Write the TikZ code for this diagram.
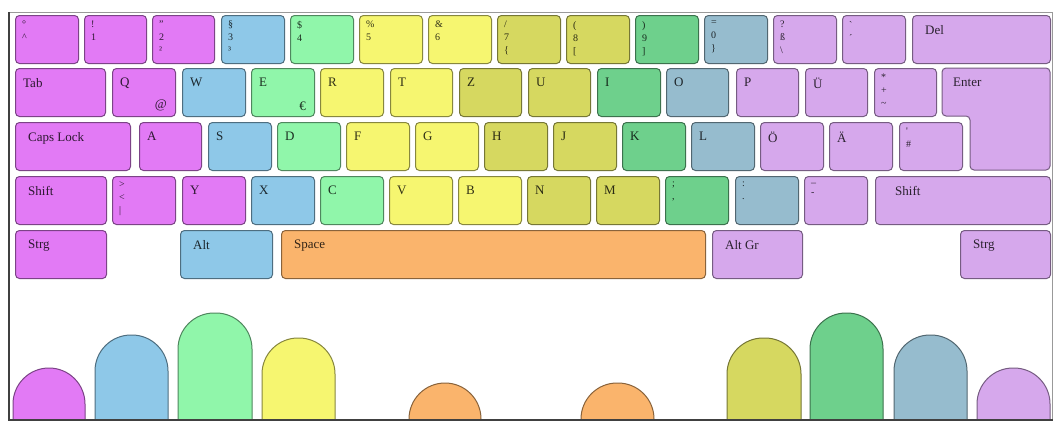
\documentclass[tikz,border=0pt]{standalone}
\usepackage{fontspec}
\setmainfont{Liberation Serif}
\usepackage{tikz}
\usetikzlibrary{positioning}

\definecolor{lpinky}{RGB}{226,122,245}
\definecolor{lring}{RGB}{142,200,232}
\definecolor{lmiddle}{RGB}{144,246,170}
\definecolor{lindex}{RGB}{246,246,112}
\definecolor{thumb}{RGB}{250,180,108}
\definecolor{rindex}{RGB}{214,216,96}
\definecolor{rmiddle}{RGB}{110,208,140}
\definecolor{rring}{RGB}{150,188,206}
\definecolor{rpinky}{RGB}{214,168,236}

\begin{document}
\begin{tikzpicture}[x=1pt,y=-1pt,
  kbase/.style={draw=#1!55!black, fill=#1, rounded corners=4pt, line width=1pt,
    anchor=north west, inner sep=0pt, minimum height=48},
  key/.style 2 args={kbase=#1, label={[lbl, text=#1!20!black]north west:#2}},
  nkey/.style 2 args={kbase=#1, label={[nlbl, text=#1!20!black]north west:#2}},
  mkey/.style 2 args={kbase=#1, label={[mlbl, text=#1!20!black]north west:#2}},
  lbl/.style={anchor=north west, inner sep=0pt, xshift=8pt, yshift=-10pt, font=\fontsize{13}{14}\selectfont},
  mlbl/.style={lbl, xshift=5pt},
  nlbl/.style={anchor=north west, inner sep=0pt, xshift=7pt, yshift=-6pt, align=left,
    font=\fontsize{10}{13}\selectfont},
  elbl/.style={anchor=south east, inner sep=0pt, xshift=-9pt, yshift=6pt, font=\fontsize{13}{14}\selectfont},
  finger/.style={draw=#1!55!black, fill=#1, line width=1pt, rounded corners=36}]
\useasboundingbox (0,0) rectangle (1056,426);
\fill[white] (0,0) rectangle (1056,426);

% row 1
\node[nkey={lpinky}{°\\\textasciicircum}, minimum width=63] (kcirc) at (15,15) {};
\node[nkey={lpinky}{!\\1}, minimum width=62] (k1) at (84,15) {};
\node[nkey={lpinky}{"\\2\\²}, minimum width=62] (k2) at (152,15) {};
\node[nkey={lring}{§\\3\\³}, minimum width=63] (k3) at (221,15) {};
\node[nkey={lmiddle}{\$\\4}, minimum width=63] (k4) at (290,15) {};
\node[nkey={lindex}{\%\\5}, minimum width=63] (k5) at (359,15) {};
\node[nkey={lindex}{\&\\6}, minimum width=63] (k6) at (428,15) {};
\node[nkey={rindex}{/\\7\\\{}, minimum width=63] (k7) at (497,15) {};
\node[nkey={rindex}{(\\8\\{[}}, minimum width=63] (k8) at (566,15) {};
\node[nkey={rmiddle}{)\\9\\{]}}, minimum width=63] (k9) at (635,15) {};
\node[nkey={rring}{=\\0\\\}}, minimum width=63] (k0) at (704,15) {};
\node[nkey={rpinky}{?\\ß\\\textbackslash}, minimum width=63] (kss) at (773,15) {};
\node[nkey={rpinky}{\textasciigrave\\´}, minimum width=63] (kacute) at (842,15) {};
\node[mkey={rpinky}{Del}, minimum width=138] (kdel) at (912,15) {};

% row 2
\node[key={lpinky}{Tab}, minimum width=90] (ktab) at (15,68) {};
\node[key={lpinky}{Q}, minimum width=63, label={[elbl, text=lpinky!20!black]south east:@}] (kq) at (112,68) {};
\node[key={lring}{W}, minimum width=63] (kw) at (182,68) {};
\node[key={lmiddle}{E}, minimum width=63, label={[elbl, text=lmiddle!20!black]south east:€}] (ke) at (251,68) {};
\node[key={lindex}{R}, minimum width=63] (kr) at (320,68) {};
\node[key={lindex}{T}, minimum width=62] (kt) at (390,68) {};
\node[key={rindex}{Z}, minimum width=62] (kz) at (459,68) {};
\node[key={rindex}{U}, minimum width=62] (ku) at (528,68) {};
\node[key={rmiddle}{I}, minimum width=63] (ki) at (597,68) {};
\node[key={rring}{O}, minimum width=62] (ko) at (666,68) {};
\node[key={rpinky}{P}, minimum width=62] (kp) at (736,68) {};
\node[key={rpinky}{Ü}, minimum width=62] (kue) at (805,68) {};
\node[nkey={rpinky}{*\\+\\\textasciitilde}, minimum width=62] (kplus) at (874,68) {};
% enter
\draw[draw=rpinky!55!black, fill=rpinky, rounded corners=4pt, line width=1pt]
  (942,68) -- (1050,68) -- (1050,170) -- (970,170) -- (970,116) -- (942,116) -- cycle;
\node[lbl, text=rpinky!20!black] (kenter) at (945,68) {Enter};

% row 3
\node[mkey={lpinky}{Caps Lock}, minimum width=115] (kcaps) at (15,122) {};
\node[key={lpinky}{A}, minimum width=62] (ka) at (139,122) {};
\node[key={lring}{S}, minimum width=63] (ks) at (208,122) {};
\node[key={lmiddle}{D}, minimum width=63] (kd) at (277,122) {};
\node[key={lindex}{F}, minimum width=63] (kf) at (346,122) {};
\node[key={lindex}{G}, minimum width=63] (kg) at (415,122) {};
\node[key={rindex}{H}, minimum width=63] (kh) at (484,122) {};
\node[key={rindex}{J}, minimum width=63] (kj) at (553,122) {};
\node[key={rmiddle}{K}, minimum width=63] (kk) at (622,122) {};
\node[key={rring}{L}, minimum width=63] (kl) at (691,122) {};
\node[key={rpinky}{Ö}, minimum width=63] (koe) at (760,122) {};
\node[key={rpinky}{Ä}, minimum width=63] (kae) at (829,122) {};
\node[nkey={rpinky}{\textquotesingle\\\#}, minimum width=63] (khash) at (899,122) {};

% row 4
\node[mkey={lpinky}{Shift}, minimum width=91] (klshift) at (15,176) {};
\node[nkey={lpinky}{>\\<\\|}, minimum width=63] (kless) at (112,176) {};
\node[key={lpinky}{Y}, minimum width=63] (ky) at (182,176) {};
\node[key={lring}{X}, minimum width=63] (kx) at (251,176) {};
\node[key={lmiddle}{C}, minimum width=63] (kc) at (320,176) {};
\node[key={lindex}{V}, minimum width=63] (kv) at (389,176) {};
\node[key={lindex}{B}, minimum width=63] (kb) at (458,176) {};
\node[key={rindex}{N}, minimum width=63] (kn) at (527,176) {};
\node[key={rindex}{M}, minimum width=63] (km) at (596,176) {};
\node[nkey={rmiddle}{;\\,}, minimum width=63] (kcomma) at (665,176) {};
\node[nkey={rring}{:\\.}, minimum width=63] (kdot) at (735,176) {};
\node[nkey={rpinky}{\_\\-}, minimum width=63] (kminus) at (804,176) {};
\node[kbase=rpinky, minimum width=175, label={[mlbl, xshift=7pt, text=rpinky!20!black]north west:Shift}] (krshift) at (875,176) {};

% row 5
\node[mkey={lpinky}{Strg}, minimum width=91] (klstrg) at (15,230) {};
\node[mkey={lring}{Alt}, minimum width=92] (kalt) at (180,230) {};
\node[mkey={thumb}{Space}, minimum width=424] (kspace) at (281,230) {};
\node[mkey={rpinky}{Alt Gr}, minimum width=90] (kaltgr) at (712,230) {};
\node[mkey={rpinky}{Strg}, minimum width=90] (krstrg) at (960,230) {};

% fingers
\draw[finger=lpinky] (13,419) -- (13,368) -- (85,368) -- (85,419);
\draw[finger=lring] (95,419) -- (95,335) -- (168,335) -- (168,419);
\draw[finger=lmiddle] (178,419) -- (178,313) -- (252,313) -- (252,419);
\draw[finger=lindex] (262,419) -- (262,338) -- (335,338) -- (335,419);
\draw[finger=thumb] (409,419) -- (409,383) -- (481,383) -- (481,419);
\draw[finger=thumb] (581,419) -- (581,383) -- (654,383) -- (654,419);
\draw[finger=rindex] (727,419) -- (727,338) -- (801,338) -- (801,419);
\draw[finger=rmiddle] (810,419) -- (810,313) -- (883,313) -- (883,419);
\draw[finger=rring] (894,419) -- (894,335) -- (967,335) -- (967,419);
\draw[finger=rpinky] (977,419) -- (977,368) -- (1050,368) -- (1050,419);

% frame
\draw[gray!80, line width=1pt] (9,12) rectangle (1052,419);
\draw[black!75, line width=2.5pt] (9,12) -- (9,420) -- (1053,420);
\end{tikzpicture}
\end{document}
